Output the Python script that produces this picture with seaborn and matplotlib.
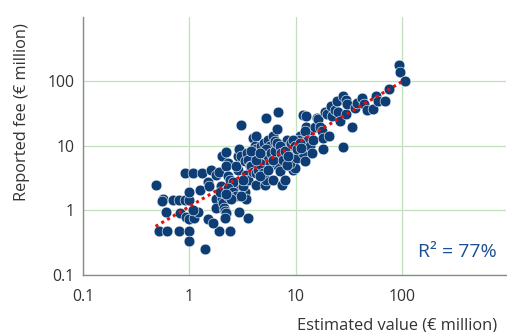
"""
Estimated value vs reported fee, log-log scatter with fitted trend.
"""

# =============== IMPORTS ===============
import numpy as np
import pandas as pd
import matplotlib
matplotlib.use("Agg")
import matplotlib.pyplot as plt
import seaborn as sns
from matplotlib.ticker import FixedLocator, FixedFormatter, NullLocator


# =============== DATA ===============
estimated_value = [
    0.48, 0.52, 0.62, 0.80, 1.0, 0.99, 1.39, 1.89, 2.42,
    0.56, 0.55, 0.70, 0.79, 0.90, 1.0, 1.0,
    0.60, 0.82, 0.93, 1.0, 1.11, 1.2, 1.07,
    0.90, 1.09, 1.3, 1.26, 1.50, 1.52, 1.61,
    1.49, 1.66, 1.79, 1.79, 2.03, 2.06, 2.1, 2.17, 2.22, 2.14,
    1.79, 1.89, 2.03, 2.19, 2.3, 2.22, 2.3, 2.39, 1.99, 2.14,
    2.47, 2.66, 2.86, 3.08, 3.3, 3.43, 2.97, 3.19, 2.57, 2.86,
    2.76, 2.86, 2.92, 3.08, 3.3, 3.48, 3.55, 3.69, 3.43, 3.55,
    2.9, 3.55, 3.03, 3.97, 4.2, 4.1, 4.26, 4.26, 4.5, 4.6,
    4.75, 5.0, 5.3, 5.1, 5.3, 5.5, 5.7, 6.1, 6.35, 6.6,
    6.8, 6.6, 6.8, 6.1, 7.1, 7.5, 7.9, 7.6, 8.2, 8.7,
    8.8, 9.1, 9.5, 9.8, 8.8, 10.3, 10.3, 10.9, 10.6, 11.7,
    12.2, 12.2, 11.7, 12.6, 12.6, 13.1, 12.2, 13.1, 13.6, 14.1,
    14.6, 15.1, 15.7, 16.3, 16.9, 17.5, 18.2, 17.9, 18.9, 19.6,
    20.7, 21.3, 21.8, 23.5, 24.3, 25.2, 26.0, 28.0, 29.6, 30.0,
    30.6, 27.8, 33.6, 36.0, 37.5, 41.8, 44.0, 47.3, 53.8, 57.0,
    60.0, 69.0, 75.0, 93.0, 96.0, 107.0,
    3.8, 3.97, 4.26, 4.4, 4.75, 4.9, 5.1, 5.3, 5.5, 5.7,
    5.9, 6.1, 6.35, 6.6, 7.1, 7.3, 7.6, 7.9, 8.2, 8.5,
    9.1, 9.5, 9.8, 10.2, 10.9, 11.3, 4.9, 4.6, 5.5, 4.26,
    3.8, 4.6,
    1.92, 2.3, 2.57, 2.76, 3.08, 3.19, 2.3, 2.47, 2.19,
]
reported_fee = [
    2.5, 0.48, 0.48, 0.48, 0.48, 0.34, 0.25, 0.48, 0.48,
    1.5, 1.4, 1.45, 1.45, 1.45, 1.45, 1.9,
    0.96, 0.92, 0.79, 0.73, 0.77, 0.96, 1.03,
    3.8, 3.8, 3.8, 2.1, 2.8, 2.4, 4.3,
    0.73, 0.64, 1.5, 1.1, 1.5, 1.3, 1.1, 0.98, 0.92, 0.77,
    3.6, 4.0, 6.9, 8.0, 5.5, 4.9, 3.4, 3.0, 2.4, 2.0,
    2.0, 2.1, 1.9, 2.0, 1.9, 1.5, 2.5, 2.4, 2.8, 4.3,
    4.9, 6.9, 8.8, 6.9, 5.8, 7.8, 6.1, 4.9, 3.6, 3.0,
    0.96, 0.77, 21.0, 13.3, 14.5, 9.9, 8.8, 2.5, 6.9, 5.5,
    9.9, 11.0, 27.0, 2.5, 3.0, 12.5, 9.9, 14.0, 12.0, 18.0,
    34.0, 6.9, 4.9, 3.0, 4.1, 2.5, 3.0, 9.9, 12.5, 9.9,
    6.9, 4.9, 4.3, 4.5, 5.5, 6.9, 6.5, 14.0, 12.5, 7.8,
    5.8, 9.9, 30.0, 29.0, 20.0, 16.0, 17.0, 12.5, 9.9, 7.8,
    12.5, 20.0, 27.0, 26.0, 20.0, 17.0, 9.0, 13.3, 34.0, 31.0,
    14.5, 41.0, 29.0, 36.0, 49.0, 34.0, 24.0, 59.0, 52.0, 31.0,
    44.0, 9.6, 20.0, 39.0, 46.0, 55.0, 44.0, 36.0, 37.0, 60.0,
    49.0, 49.0, 76.0, 177.0, 142.0, 100.0,
    4.9, 4.0, 3.8, 4.3, 5.1, 6.1, 7.4, 8.8, 6.9, 5.5,
    7.8, 6.1, 8.3, 11.0, 9.9, 7.8, 6.1, 8.3, 5.1, 6.9,
    11.0, 12.5, 9.9, 8.8, 11.0, 9.3, 3.8, 3.4, 4.3, 6.1,
    8.3, 7.8,
    1.9, 2.2, 1.9, 1.7, 1.7, 3.0, 1.67, 1.5, 1.77,
]
axis_ticks = [0.1, 1, 10, 100]
axis_tick_labels = ["0.1", "1", "10", "100"]
r_squared_label = "R² = 77%"

df = pd.DataFrame({"value": estimated_value, "fee": reported_fee})

# log-log least squares for the trend line
slope, intercept = np.polyfit(np.log10(df["value"]), np.log10(df["fee"]), 1)
fit_x = np.logspace(np.log10(df["value"].min()), np.log10(df["value"].max()), 50)
fit_y = 10 ** (intercept + slope * np.log10(fit_x))


# =============== PLOT ===============
sns.set_theme(style="white")
plt.rcParams["font.family"] = ["Open Sans", "DejaVu Sans"]

NAVY = "#0d3d75"
GRID = "#bfe0bb"
TEXT = "#333333"

fig = plt.figure(figsize=(5.07, 3.32), dpi=100)
ax = fig.add_axes([0.164, 0.172, 0.834, 0.777])

sns.scatterplot(data=df, x="value", y="fee", ax=ax, color=NAVY, s=60,
                edgecolor="white", linewidth=0.4, zorder=3)
ax.plot(fit_x, fit_y, color="#e0100f", linestyle=(0, (1, 1.2)), linewidth=2.2,
        zorder=4)

ax.set_xscale("log")
ax.set_yscale("log")
ax.set_xlim(0.1, 950)
ax.set_ylim(0.1, 1000)

for axis in (ax.xaxis, ax.yaxis):
    axis.set_major_locator(FixedLocator(axis_ticks))
    axis.set_major_formatter(FixedFormatter(axis_tick_labels))
    axis.set_minor_locator(NullLocator())

ax.grid(True, color=GRID, linewidth=0.9, zorder=0)
ax.set_axisbelow(True)
ax.tick_params(axis="both", length=0, labelsize=11.3, colors=TEXT)
ax.tick_params(axis="x", pad=10)
ax.tick_params(axis="y", pad=6)

for side in ("top", "right"):
    ax.spines[side].set_visible(False)
for side in ("left", "bottom"):
    ax.spines[side].set_color("#8a8a8a")
    ax.spines[side].set_linewidth(1.0)

ax.set_xlabel("Estimated value (€ million)", fontsize=11.8, color=TEXT)
ax.xaxis.set_label_coords(0.979, -0.165)
ax.xaxis.label.set_horizontalalignment("right")
ax.set_ylabel("Reported fee (€ million)", fontsize=11.8, color=TEXT)
ax.yaxis.set_label_coords(-0.125, 0.63)

ax.text(0.979, 0.09, r_squared_label, transform=ax.transAxes, ha="right",
        va="center", fontsize=14, color="#1f4f8f")

fig.savefig("out.png", dpi=100)
plt.close(fig)
